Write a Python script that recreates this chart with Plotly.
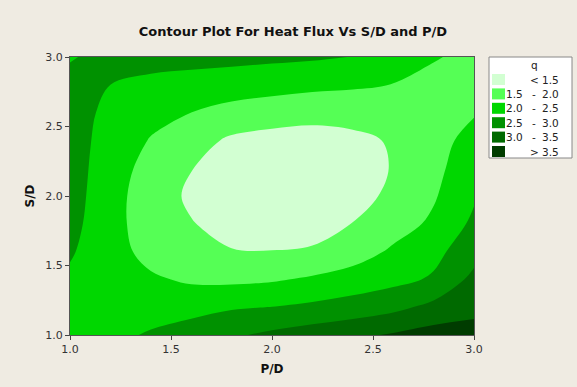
import plotly.graph_objects as go

# P/D (x) and S/D (y) grid
pd_vals = [1.0, 1.2, 1.4, 1.6, 1.8, 2.0, 2.2, 2.4, 2.6, 2.8, 3.0]
sd_vals = [1.0, 1.2, 1.4, 1.6, 1.8, 2.0, 2.2, 2.4, 2.6, 2.8, 3.0]

# heat flux q, one row per S/D value (bottom to top)
q_sd_1_0 = [2.28, 2.38, 2.55, 2.74, 2.93, 3.10, 3.25, 3.40, 3.55, 3.70, 3.70]
q_sd_1_2 = [2.36, 2.30, 2.30, 2.33, 2.45, 2.51, 2.60, 2.70, 2.87, 3.14, 3.35]
q_sd_1_4 = [2.42, 2.22, 2.07, 1.93, 1.90, 1.95, 2.07, 2.23, 2.36, 2.56, 3.14]
q_sd_1_6 = [2.55, 2.20, 1.84, 1.62, 1.52, 1.51, 1.55, 1.75, 2.08, 2.36, 2.80]
q_sd_1_8 = [2.65, 2.18, 1.74, 1.52, 1.36, 1.30, 1.32, 1.51, 1.78, 2.09, 2.60]
q_sd_2_0 = [2.70, 2.20, 1.72, 1.43, 1.30, 1.25, 1.25, 1.33, 1.60, 1.95, 2.44]
q_sd_2_2 = [2.72, 2.24, 1.82, 1.51, 1.36, 1.30, 1.29, 1.34, 1.52, 1.88, 2.28]
q_sd_2_4 = [2.70, 2.32, 1.97, 1.70, 1.42, 1.33, 1.31, 1.40, 1.54, 1.86, 2.13]
q_sd_2_6 = [2.68, 2.40, 2.16, 2.00, 1.84, 1.74, 1.66, 1.66, 1.80, 1.90, 1.97]
q_sd_2_8 = [2.62, 2.50, 2.38, 2.30, 2.24, 2.18, 2.12, 2.07, 1.99, 1.88, 1.86]
q_sd_3_0 = [2.47, 2.62, 2.68, 2.67, 2.64, 2.60, 2.56, 2.49, 2.25, 2.03, 1.90]

q_grid = [q_sd_1_0, q_sd_1_2, q_sd_1_4, q_sd_1_6, q_sd_1_8, q_sd_2_0,
          q_sd_2_2, q_sd_2_4, q_sd_2_6, q_sd_2_8, q_sd_3_0]

levels_start, levels_end, levels_step = 1.5, 3.5, 0.5
band_colors = ["#D2FFD2", "#55FF55", "#00D700", "#009100", "#006A00", "#003C00"]
legend_low = ["", "1.5", "2.0", "2.5", "3.0", ""]
legend_sym = ["<", "-", "-", "-", "-", ">"]
legend_high = ["1.5", "2.0", "2.5", "3.0", "3.5", "3.5"]

x_ticks = [1.0, 1.5, 2.0, 2.5, 3.0]
y_ticks = [1.0, 1.5, 2.0, 2.5, 3.0]
tick_text = ["1.0", "1.5", "2.0", "2.5", "3.0"]

# step colorscale (one colour per band)
n = len(band_colors)
cs = []
for i, c in enumerate(band_colors):
    lo = 0 if i == 0 else (i - 0.5) / (n - 1)
    hi = 1 if i == n - 1 else (i + 0.5) / (n - 1)
    cs.append([lo, c])
    cs.append([hi, c])

W, H = 577, 387
L, R, T, B = 70, 474, 57, 335  # plot area in px
BG = "#EFEBE2"

fig = go.Figure()
fig.add_trace(go.Contour(
    x=pd_vals, y=sd_vals, z=q_grid,
    autocontour=False,
    contours=dict(start=levels_start, end=levels_end, size=levels_step,
                  coloring="fill", showlines=False),
    colorscale=cs, showscale=False,
    line=dict(width=0, smoothing=1.0),
    hoverinfo="skip",
))

def px_x(p):
    return (p - L) / (R - L)

def px_y(p):
    return (B - p) / (B - T)

FONT = "DejaVu Sans"
LFS = 10.5
shapes = []
annotations = []
# legend box
shapes.append(dict(type="rect", xref="paper", yref="paper",
                   x0=px_x(489), x1=px_x(572), y0=px_y(158), y1=px_y(57),
                   fillcolor="white", line=dict(color="#888888", width=1)))
annotations.append(dict(xref="paper", yref="paper", x=px_x(534), y=px_y(65),
                        text="q", showarrow=False, xanchor="center", yanchor="middle",
                        font=dict(family=FONT, size=LFS, color="#222")))
for k in range(n):
    yc = 79.5 + 14.4 * k
    shapes.append(dict(type="rect", xref="paper", yref="paper",
                       x0=px_x(492), x1=px_x(505), y0=px_y(yc + 5.5), y1=px_y(yc - 5.5),
                       fillcolor=band_colors[k], line=dict(width=0)))
    if legend_low[k]:
        annotations.append(dict(xref="paper", yref="paper", x=px_x(525), y=px_y(yc),
                                text=legend_low[k], showarrow=False, xanchor="right",
                                yanchor="middle",
                                font=dict(family=FONT, size=LFS, color="#222")))
    annotations.append(dict(xref="paper", yref="paper", x=px_x(534), y=px_y(yc),
                            text=legend_sym[k], showarrow=False, xanchor="center",
                            yanchor="middle",
                            font=dict(family=FONT, size=LFS, color="#222")))
    annotations.append(dict(xref="paper", yref="paper", x=px_x(561), y=px_y(yc),
                            text=legend_high[k], showarrow=False, xanchor="right",
                            yanchor="middle",
                            font=dict(family=FONT, size=LFS, color="#222")))

fig.update_layout(
    width=W, height=H,
    margin=dict(l=L, r=W - R, t=T, b=H - B, pad=0, autoexpand=False),
    paper_bgcolor=BG, plot_bgcolor=BG,
    title=dict(text="<b>Contour Plot For Heat Flux Vs S/D and P/D</b>",
               x=293 / W, xanchor="center", y=1 - 31 / H, yanchor="middle",
               font=dict(family=FONT, size=13, color="#111")),
    shapes=shapes, annotations=annotations,
    showlegend=False,
)
fig.update_xaxes(range=[1.0, 3.0], tickvals=x_ticks, ticktext=tick_text,
                 ticks="outside", ticklen=4, tickcolor="#444", showgrid=False,
                 zeroline=False, showline=True, linecolor="#555", linewidth=1, mirror=True,
                 automargin=False,
                 tickfont=dict(family=FONT, size=11, color="#333"),
                 title=dict(text="<b>P/D</b>", standoff=9,
                            font=dict(family=FONT, size=12, color="#111")))
fig.update_yaxes(range=[1.0, 3.0], tickvals=y_ticks, ticktext=tick_text,
                 ticks="outside", ticklen=4, tickcolor="#444", showgrid=False,
                 zeroline=False, showline=True, linecolor="#555", linewidth=1, mirror=True,
                 automargin=False,
                 tickfont=dict(family=FONT, size=11, color="#333"),
                 title=dict(text="<b>S/D</b>", standoff=8,
                            font=dict(family=FONT, size=12, color="#111")))

fig.write_html("out.html",
               config={"displayModeBar": False},
               post_script="document.body.style.margin='0';"
                           "document.body.style.background='" + BG + "';")
